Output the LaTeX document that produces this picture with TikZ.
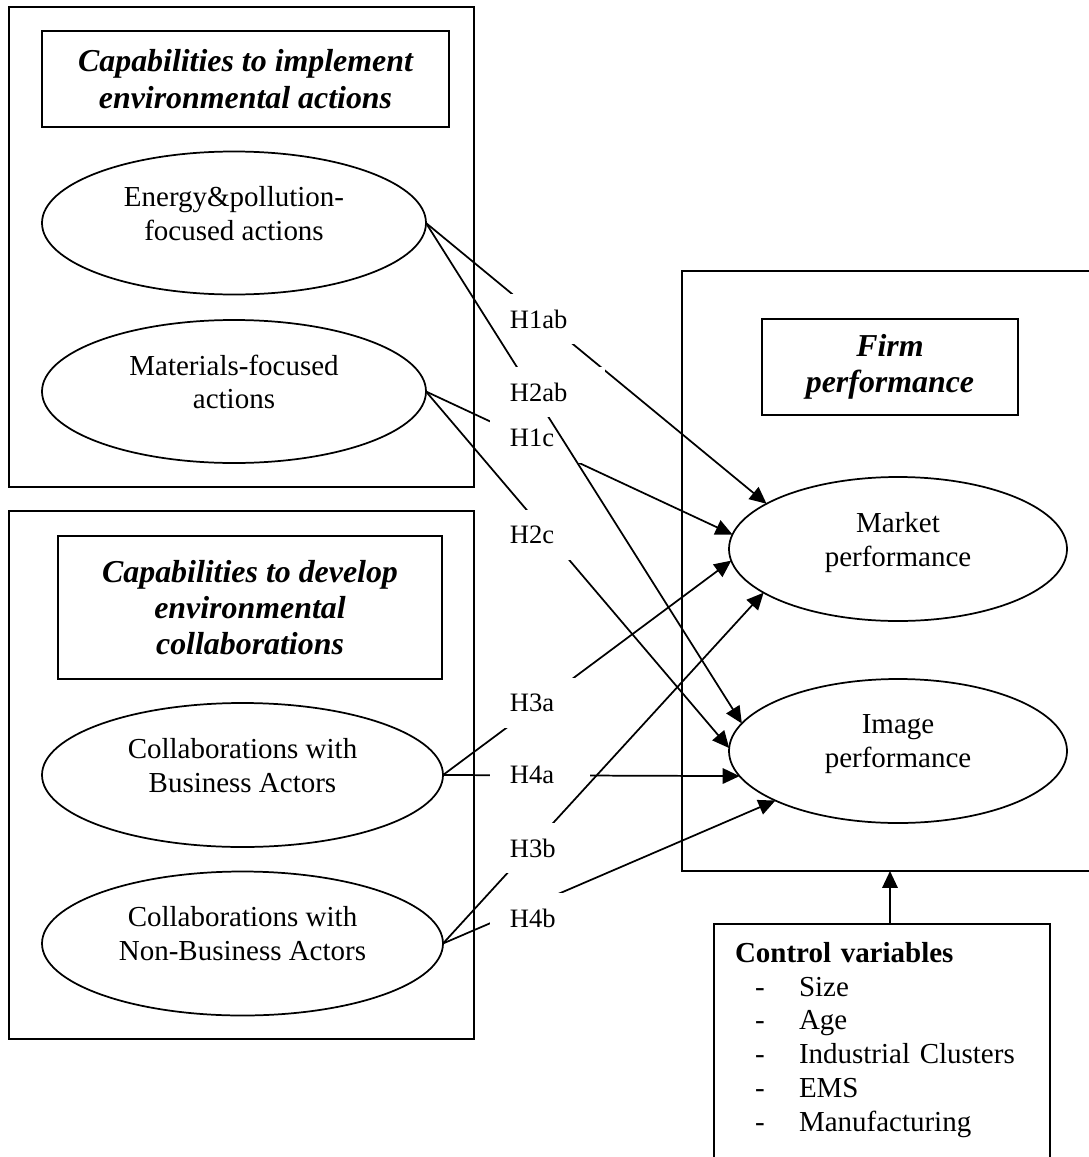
\documentclass[tikz,border=0pt]{standalone}
\usepackage{fontspec}
\setmainfont{Liberation Serif}
\usetikzlibrary{shapes.geometric,arrows.meta}

% one pixel of the layout grid
\newcommand{\pxu}{0.414pt}
\newcommand{\ctrlitem}[1]{\hspace*{8.3pt}\makebox[18.2pt][l]{-}#1}

\begin{document}
\begin{tikzpicture}[x=0.414pt, y=-0.414pt, line width=0.72pt,
 font=\fontsize{12}{14}\selectfont, >={Triangle[length=7pt,width=6.4pt]},
 frame/.style={draw, rectangle, inner sep=0pt, outer sep=0pt},
 title/.style={draw, rectangle, inner sep=0pt, outer sep=0pt, align=center,
  font=\fontsize{13.2}{15}\selectfont\bfseries\itshape},
 latent/.style={draw, ellipse, inner sep=0pt, outer sep=0pt, align=center,
  execute at end node={\rule[-8pt]{0pt}{0pt}}},
 hyp/.style={fill=white, anchor=west, inner xsep=20*\pxu, inner ysep=0pt,
  text width=31pt, align=left, minimum height=50*\pxu,
  font=\fontsize{11}{13}\selectfont},
 link/.style={->}]
 \useasboundingbox (0,0) rectangle (1089,1157);

 % left blocks
 \node[frame, minimum width=465*\pxu, minimum height=480*\pxu] (implbox) at (241.5,247) {};
 \node[frame, minimum width=465*\pxu, minimum height=528*\pxu] (collbox) at (241.5,775) {};
 \node[title, minimum width=407*\pxu, minimum height=96*\pxu] (impltitle) at (245.5,79)
  {Capabilities to implement\\environmental actions};
 \node[title, minimum width=384*\pxu, minimum height=143*\pxu] (colltitle) at (250,607.5)
  {Capabilities to develop\\environmental\\collaborations};

 \node[latent, minimum width=384*\pxu, minimum height=143*\pxu] (energy) at (234,223)
  {Energy\&pollution-\\focused actions};
 \node[latent, minimum width=384*\pxu, minimum height=143*\pxu] (materials) at (234,391.5)
  {Materials-focused\\actions};
 \node[latent, minimum width=401*\pxu, minimum height=144*\pxu] (business) at (242.5,775)
  {Collaborations with\\Business Actors};
 \node[latent, minimum width=401*\pxu, minimum height=144*\pxu] (nonbusiness) at (242.5,943.5)
  {Collaborations with\\Non-Business Actors};

 % firm performance
 \node[frame, minimum width=420*\pxu, minimum height=600*\pxu] (firmbox) at (892,571) {};
 \node[title, minimum width=256*\pxu, minimum height=96*\pxu] (firmtitle) at (890,367)
  {Firm\\performance};
 \node[latent, minimum width=338*\pxu, minimum height=144*\pxu] (marketperf) at (898,549)
  {Market\\performance};
 \node[latent, minimum width=338*\pxu, minimum height=144*\pxu] (imageperf) at (898,751)
  {Image\\performance};

 % controls
 \node[draw, anchor=north west, text width=121.7pt, inner xsep=8.7pt, inner ysep=7.5pt,
  align=left, outer sep=0pt] (controls) at (714,924)
  {\textbf{Control variables}\\ \ctrlitem{Size}\\ \ctrlitem{Age}\\
   \ctrlitem{Industrial Clusters}\\ \ctrlitem{EMS}\\
   \ctrlitem{Manufacturing}\rule[-40pt]{0pt}{0pt}};
 \coordinate (ctrltop) at ([xshift=8*\pxu]controls.north);
 \draw[link] (ctrltop) -- (ctrltop |- firmbox.south);

 % hypotheses (order keeps the right lines on top of the labels)
 \draw[link] (energy.east) -- (marketperf.161);
 \node[hyp] (h1ab) at (489,319) {H1ab};
 \draw[link] (materials.east) -- (marketperf.175);
 \node[hyp] (h1c) at (489,438) {H1c};
 \draw[link] (energy.east) -- (imageperf.170);
 \node[hyp] (h2ab) at (489,392) {H2ab};
 \draw[link] (materials.east) -- (imageperf.179);
 \node[hyp] (h2c) at (489,535) {H2c};
 \draw[link] (business.east) -- (marketperf.184);
 \node[hyp] (h3a) at (489,703) {H3a};
 \draw[link] (business.east) -- (imageperf.189);
 \node[hyp, text width=25pt] (h4a) at (489,775) {H4a};
 \draw[link] (nonbusiness.east) -- (imageperf.202);
 \node[hyp] (h4b) at (489,918) {H4b};
 \draw[link] (nonbusiness.east) -- (marketperf.198);
 \node[hyp] (h3b) at (489,848) {H3b};
\end{tikzpicture}
\end{document}
